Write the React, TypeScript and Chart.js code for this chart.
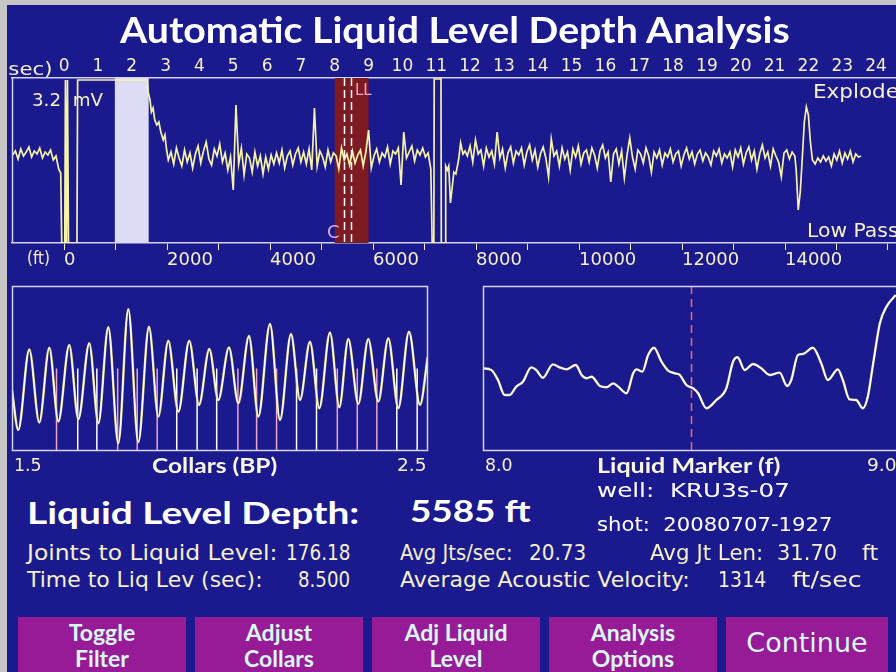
import React, { useEffect, useLayoutEffect, useRef } from 'react';
import { Chart, registerables } from 'chart.js';

Chart.register(...registerables);

// ---------------- data ----------------
const SOUND_VELOCITY = 1314; // ft/sec
const SEC_MIN = -1.54;
const SEC_MAX = 24.59;
const SAMPLE_STEP = 0.08; // sec between trace samples

const secTicks = [0, 1, 2, 3, 4, 5, 6, 7, 8, 9, 10, 11, 12, 13, 14, 15, 16, 17, 18, 19, 20, 21, 22, 23, 24];
const ftTicks = [0, 1000, 2000, 3000, 4000, 5000, 6000, 7000, 8000, 9000, 10000, 11000, 12000, 13000, 14000, 15000, 16000];
const ftLabeled = [0, 2000, 4000, 6000, 8000, 10000, 12000, 14000];

// acoustic trace (arbitrary display units, 0 = baseline)
const preShotStart = -1.52;
const preShot = [5, 9, 1, 11, 4, 8, 13, 3, 9, 6, 12, 2, 8, 5, 10, 0, 4, -9];
const shotEvents: [number, number][] = [
  [-0.1, -13], [-0.07, -83], [0.02, -83], [0.04, 80], [0.07, -83], [0.1, 80], [0.13, -83],
  [0.38, -83], [0.4, 80], [2.45, 80], [2.49, 67], [2.54, 60], [2.58, 48], [2.63, 52],
  [2.68, 40], [2.74, 35], [2.8, 38], [2.86, 28], [2.93, 20], [2.98, 25], [3.03, 10],
];
const midStart = 3.08;
const midTrace = [
  0, 8, -4, 12, 2, -6, 10, -2, 7, -8,
  6, 14, -3, 9, 18, 1, -5, 11, 4, 16,
  -2, 7, -10, 3, -30, 55, -4, 12, -15, 6,
  2, -12, 8, -6, 4, -14, 3, -9, 5, -4,
  7, -3, 10, -8, 4, 9, -5, 6, 12, -2,
  8, -4, 11, -10, 52, -6, 9, 3, -7, 10,
  -2, 7, 4, -9, 12, 0, 6, -5, 9, -3,
  5, 10, -6, 8, 30, -8, 4, 11, -2, 7,
  3, 13, -4, 9, 6, 12, -25, 28, 2, 8,
  14, -1, 10, 5, 12, 3, 7, -9,
];
const gasEvents: [number, number][] = [
  [10.88, -83], [10.93, -83], [10.94, 81], [11.14, 81], [11.15, -83], [11.26, -83],
  [11.28, -6], [11.33, -10], [11.37, -6], [11.42, -43], [11.47, -28], [11.52, -12],
  [11.58, -14], [11.66, 0], [11.72, 17], [11.79, 6], [11.85, 9],
];
const lateStart = 11.92;
const lateTrace = [
  4, 14, -2, 20, 6, 10, -6, 12, 3, 9,
  -4, 28, 2, 11, -8, 7, 13, -3, 9, 5,
  12, -5, 8, 15, 0, 10, -7, 6, 13, 2,
  -17, 21, 4, 9, -6, 12, 1, 8, -10, 11,
  3, 14, -4, 7, 10, -2, 12, 5, -8, 9,
  15, 2, 8, -22, 6, 11, -4, 9, -18, 5,
  22, 3, -9, 10, 6, -3, 12, 4, -12, 8,
  2, 10, -5, 7, 3, 11, -2, 6, 9, -6,
  5, 12, 1, 8, -4, 6, 10, -1, 7, 3,
  -5, 9, 4, 11, -3, 6, 2, 8, -7, 10,
  3, 12, -4, 7, 13, 0, 9, -9, 6, 15,
  2, 8, -6, 11, 4, -2, -17, 7, 10, 1,
  8, 4,
];
const echoEvents: [number, number][] = [
  [21.64, -10], [21.7, -50], [21.76, -32], [21.82, 2], [21.88, 38], [21.94, 53],
  [22.0, 45], [22.06, 18], [22.12, 0], [22.2, -4],
];
const tailStart = 22.28;
const tailTrace = [2, -2, 4, -1, 3, -6, 6, 0, 9, -3, 7, 1, 9, -2, 6, 3, 4];

const collarWindow = [1.5, 2.5];
const liquidWindow = [8.0, 9.0];
const markerLines = [8.28, 8.47];
const LL_TIME = 8.5;

// collar (BP) waveform: peaks & troughs
const collarT = [1.5, 1.515, 1.5416, 1.5656, 1.5897, 1.6113, 1.6377, 1.6594, 1.6858, 1.7075,
  1.7315, 1.7555, 1.7796, 1.8036, 1.8293, 1.8517, 1.8757, 1.8998, 1.9262, 1.9495, 1.9743,
  1.9959, 2.0216, 2.044, 2.0697, 2.0921, 2.1202, 2.1442, 2.1707, 2.1923, 2.2163, 2.2387,
  2.2644, 2.2868, 2.3084, 2.3325, 2.3565, 2.3805, 2.4046, 2.4286, 2.4543, 2.4808, 2.4993];
const collarV = [37, 12.7, 61.6, 17.2, 62.6, 17.8, 64.2, 19.2, 65.3, 16.8, 75, 4.7, 85.9, 5.3,
  75.3, 20.8, 66.8, 23.8, 66.8, 27.9, 61.8, 30.9, 62.8, 28.9, 69.7, 20.8, 77, 18.8, 70.9, 30.9,
  66.2, 25.9, 71.9, 26.5, 67.9, 28.5, 67.9, 29.9, 68.3, 25.9, 72.3, 27.9, 57];
const pinkCollars = [1.607, 1.754, 1.801, 1.849, 2.043, 2.088, 2.136, 2.282, 2.33, 2.377];
const whiteCollars = [1.658, 1.704, 1.896, 1.945, 1.992, 2.184, 2.232, 2.425, 2.474];
const collarMarkHeight = 50;

// liquid marker waveform
const liquidT = [8.0, 8.02, 8.036, 8.052, 8.064, 8.08, 8.096, 8.116, 8.128, 8.144, 8.168, 8.184,
  8.2, 8.223, 8.237, 8.249, 8.261, 8.281, 8.297, 8.313, 8.325, 8.345, 8.361, 8.369, 8.383, 8.397,
  8.411, 8.429, 8.445, 8.461, 8.473, 8.489, 8.505, 8.517, 8.537, 8.561, 8.585, 8.601, 8.612, 8.629,
  8.649, 8.669, 8.689, 8.713, 8.731, 8.741, 8.757, 8.769, 8.793, 8.813, 8.829, 8.853, 8.865, 8.881,
  8.897, 8.913, 8.925, 8.938, 8.954, 8.97, 8.992];
const liquidV = [50.1, 49.1, 43.0, 33.9, 33.9, 39.0, 42.0, 50.7, 49.1, 44.4, 52.5, 50.7, 49.5, 52.1,
  46.1, 44.1, 45.0, 39.4, 38.6, 41.0, 39.0, 35.0, 47.1, 49.5, 48.1, 58.2, 62.6, 54.1, 48.7, 47.1,
  46.1, 40.0, 38.0, 35.0, 25.9, 30.9, 38.0, 54.1, 56.8, 49.1, 52.7, 50.1, 46.1, 47.5, 39.4, 43.0,
  58.2, 58.8, 62.6, 53.2, 43.0, 49.5, 43.0, 31.3, 30.9, 25.9, 32.9, 53.2, 77.4, 87.5, 94.5];

// ---------------- styles ----------------
const BLUE = '#1a1a8e';
const PALE = '#f4f0c8';
const FRAME = '#d4d4f2';
const FONT = 'DejaVu Sans';
const BOLD_FONT = 'Lato';

// ---------------- helpers ----------------
const uniform = (start: number, vals: number[]) =>
  vals.map((v, i) => ({ x: +(start + i * SAMPLE_STEP).toFixed(3), y: v }));
const pairs = (arr: [number, number][]) => arr.map(([x, y]) => ({ x, y }));

const signalPts = [
  ...uniform(preShotStart, preShot),
  ...pairs(shotEvents),
  ...uniform(midStart, midTrace),
  ...pairs(gasEvents),
  ...uniform(lateStart, lateTrace),
  ...pairs(echoEvents),
  ...uniform(tailStart, tailTrace),
];

const stems = (ts: number[]) =>
  ts.flatMap((t) => [{ x: t, y: 0 }, { x: t, y: collarMarkHeight }, { x: t, y: null }]);

const framePlugin = {
  id: 'frame',
  afterDraw(chart: any) {
    const { ctx, chartArea: a } = chart;
    ctx.save();
    ctx.strokeStyle = FRAME;
    ctx.lineWidth = 1.5;
    ctx.strokeRect(a.left + 0.5, a.top + 0.5, a.right - a.left - 1, a.bottom - a.top - 1);
    ctx.restore();
  },
};

function Txt(props: any) {
  const { x, y, w, size, text, color = PALE, weight = 400, family = FONT } = props;
  const ref = useRef<HTMLDivElement>(null);
  const fit = () => {
    const el = ref.current;
    if (!el || !w) return;
    el.style.transform = 'none';
    const nat = el.offsetWidth;
    if (nat > 0) el.style.transform = `scaleX(${w / nat})`;
  };
  useLayoutEffect(() => {
    fit();
    if ((document as any).fonts) (document as any).fonts.ready.then(fit);
  });
  return (
    <div
      ref={ref}
      style={{
        position: 'absolute', left: x, top: y - size / 2, fontSize: size, lineHeight: `${size}px`,
        whiteSpace: 'pre', color, fontWeight: weight, fontFamily: family, transformOrigin: 'left center',
      }}
    >
      {text}
    </div>
  );
}

function useChart(make: (c: HTMLCanvasElement) => Chart) {
  const ref = useRef<HTMLCanvasElement>(null);
  useEffect(() => {
    if (!ref.current) return;
    const ch = make(ref.current);
    return () => ch.destroy();
  }, []);
  return ref;
}

function TopChart() {
  const ref = useChart((canvas) => {
    const ftMin = (SEC_MIN * SOUND_VELOCITY) / 2;
    const ftMax = (SEC_MAX * SOUND_VELOCITY) / 2;
    const overlay = {
      id: 'overlay',
      beforeDatasetsDraw(chart: any) {
        const { ctx, chartArea: a, scales } = chart;
        const sx = scales.x;
        ctx.save();
        ctx.fillStyle = '#dcdcf6';
        let x1 = sx.getPixelForValue(collarWindow[0]);
        let x2 = sx.getPixelForValue(collarWindow[1]);
        ctx.fillRect(x1, a.top, x2 - x1, a.bottom - a.top);
        ctx.fillStyle = '#7e1a22';
        x1 = sx.getPixelForValue(liquidWindow[0]);
        x2 = sx.getPixelForValue(liquidWindow[1]);
        ctx.fillRect(x1, a.top, x2 - x1, a.bottom - a.top);
        ctx.restore();
      },
      afterDatasetsDraw(chart: any) {
        const { ctx, chartArea: a, scales } = chart;
        const sx = scales.x;
        ctx.save();
        ctx.strokeStyle = '#ffffff';
        ctx.lineWidth = 1.5;
        ctx.setLineDash([8, 4]);
        markerLines.forEach((t) => {
          const px = Math.round(sx.getPixelForValue(t)) + 0.5;
          ctx.beginPath();
          ctx.moveTo(px, a.top);
          ctx.lineTo(px, a.bottom);
          ctx.stroke();
        });
        ctx.setLineDash([]);
        ctx.strokeStyle = FRAME;
        ctx.beginPath();
        ctx.moveTo(a.left + 0.5, a.top);
        ctx.lineTo(a.left + 0.5, a.bottom);
        ctx.stroke();
        ctx.restore();
      },
    };
    return new Chart(canvas, {
      type: 'line',
      data: {
        datasets: [
          { data: signalPts as any, borderColor: '#f6f2a8', borderWidth: 1.7, pointRadius: 0, tension: 0 },
          { data: [], xAxisID: 'ft', pointRadius: 0 },
        ],
      },
      options: {
        animation: false, responsive: false, events: [],
        layout: { padding: { left: 12, right: 0, top: 0, bottom: 0 } },
        plugins: { legend: { display: false }, tooltip: { enabled: false } },
        scales: {
          x: {
            type: 'linear', position: 'top', display: true, min: SEC_MIN, max: SEC_MAX,
            grid: { display: false, drawTicks: false },
            border: { display: true, color: FRAME, width: 1.5 },
            afterBuildTicks: (s: any) => { s.ticks = secTicks.map((v) => ({ value: v })); },
            ticks: {
              autoSkip: false, maxRotation: 0, minRotation: 0, padding: 1, color: PALE,
              font: { family: FONT, size: 17 },
              callback: (v: any) => String(v),
            },
            afterFit: (s: any) => { s.height = 28; s.paddingLeft = 0; s.paddingRight = 0; },
          },
          ft: {
            type: 'linear', axis: 'x', position: 'bottom', display: true, min: ftMin, max: ftMax,
            grid: {
              display: true, drawOnChartArea: false, drawTicks: true, tickLength: 7, color: PALE,
            },
            border: { display: true, color: FRAME, width: 1.5 },
            afterBuildTicks: (s: any) => { s.ticks = ftTicks.map((v) => ({ value: v })); },
            ticks: {
              autoSkip: false, maxRotation: 0, minRotation: 0, align: 'start', padding: 0,
              color: PALE, font: { family: FONT, size: 18 },
              callback: (v: any) => (ftLabeled.includes(v) ? String(v) : ''),
            },
            afterFit: (s: any) => { s.height = 32; s.paddingLeft = 0; s.paddingRight = 0; },
          },
          y: { display: false, min: -83, max: 82 },
        },
      } as any,
      plugins: [overlay],
    });
  });
  return <canvas ref={ref} width={896} height={225} style={{ position: 'absolute', left: 0, top: 50, display: 'block' }} />;
}

function CollarChart() {
  const ref = useChart((canvas) => {
    const wave = collarT.map((t, i) => ({ x: t, y: collarV[i] }));
    return new Chart(canvas, {
      type: 'line',
      data: {
        datasets: [
          { data: wave, borderColor: '#ffffff', borderWidth: 1.3, pointRadius: 0, cubicInterpolationMode: 'monotone' },
          { data: wave, borderColor: '#d8d27a', borderWidth: 2.4, pointRadius: 0, cubicInterpolationMode: 'monotone' },
          { data: stems(pinkCollars), borderColor: '#f0a4c8', borderWidth: 1.5, pointRadius: 0 },
          { data: stems(whiteCollars), borderColor: '#ffffff', borderWidth: 1.5, pointRadius: 0 },
        ] as any,
      },
      options: {
        animation: false, responsive: false, events: [],
        layout: { padding: { left: 12, right: 12, top: 6, bottom: 29 } },
        plugins: { legend: { display: false }, tooltip: { enabled: false } },
        scales: {
          x: { type: 'linear', display: false, min: collarWindow[0], max: collarWindow[1] },
          y: { display: false, min: 0, max: 100 },
        },
      } as any,
      plugins: [framePlugin],
    });
  });
  return <canvas ref={ref} width={440} height={200} style={{ position: 'absolute', left: 0, top: 280, display: 'block' }} />;
}

function LiquidChart() {
  const ref = useChart((canvas) => {
    const curve = liquidT.map((t, i) => ({ x: t, y: liquidV[i] }));
    const llLine = {
      id: 'llLine',
      afterDatasetsDraw(chart: any) {
        const { ctx, chartArea: a, scales } = chart;
        const px = Math.round(scales.x.getPixelForValue(LL_TIME)) + 0.5;
        ctx.save();
        ctx.strokeStyle = '#f26a5e';
        ctx.lineWidth = 1.5;
        ctx.setLineDash([8, 5]);
        ctx.beginPath();
        ctx.moveTo(px, a.top);
        ctx.lineTo(px, a.bottom);
        ctx.stroke();
        ctx.restore();
      },
    };
    return new Chart(canvas, {
      type: 'line',
      data: {
        datasets: [
          { data: curve, borderColor: '#ffffff', borderWidth: 1.3, pointRadius: 0, cubicInterpolationMode: 'monotone' },
          { data: curve, borderColor: '#dcdca0', borderWidth: 2.4, pointRadius: 0, cubicInterpolationMode: 'monotone' },
        ] as any,
      },
      options: {
        animation: false, responsive: false, events: [],
        layout: { padding: { left: 13, right: 11, top: 6, bottom: 29 } },
        plugins: { legend: { display: false }, tooltip: { enabled: false } },
        scales: {
          x: { type: 'linear', display: false, min: liquidWindow[0], max: liquidWindow[1] },
          y: { display: false, min: 0, max: 100 },
        },
      } as any,
      plugins: [framePlugin, llLine],
    });
  });
  return <canvas ref={ref} width={440} height={200} style={{ position: 'absolute', left: 470, top: 280, display: 'block' }} />;
}

const buttons = [
  { x: 18, w: 168, lines: ['Toggle', 'Filter'] },
  { x: 195, w: 168, lines: ['Adjust', 'Collars'] },
  { x: 372, w: 168, lines: ['Adj Liquid', 'Level'] },
  { x: 549, w: 168, lines: ['Analysis', 'Options'] },
  { x: 726, w: 162, lines: ['Continue'] },
];

export default function App() {
  return (
    <div style={{ position: 'fixed', left: 0, top: 0, width: 896, height: 672, background: BLUE, overflow: 'hidden', fontFamily: FONT }}>
      <TopChart />
      <CollarChart />
      <LiquidChart />

      <Txt x={120} y={29} w={670} size={36} text="Automatic Liquid Level Depth Analysis" color="#ffffff" weight={700} family={BOLD_FONT} />
      <Txt x={0} y={69} w={52} size={18} text="(sec)" />
      <Txt x={27} y={258} w={23} size={18} text="(ft)" />
      <Txt x={32} y={100} w={71} size={18} text="3.2  mV" />
      <Txt x={813} y={91} w={86} size={19} text="Explode" />
      <Txt x={807} y={230} w={92} size={19} text="Low Pass" />
      <Txt x={355} y={90} w={17} size={15} text="LL" color="#f4a8c0" />
      <Txt x={327} y={232} w={13} size={18} text="C" color="#e0a8e8" />

      <Txt x={14} y={465} w={28} size={18} text="1.5" />
      <Txt x={152} y={465} w={125} size={20} text="Collars (BP)" weight={700} family={BOLD_FONT} color="#f8f6dc" />
      <Txt x={397} y={465} w={30} size={18} text="2.5" />
      <Txt x={485} y={465} w={28} size={18} text="8.0" />
      <Txt x={597} y={465} w={183} size={20} text="Liquid Marker (f)" weight={700} family={BOLD_FONT} color="#f8f6dc" />
      <Txt x={867} y={465} w={30} size={18} text="9.0" />

      <Txt x={27} y={512} w={333} size={31} text="Liquid Level Depth:" color="#ffffff" weight={700} family={BOLD_FONT} />
      <Txt x={410} y={510} w={120} size={31} text="5585 ft" color="#ffffff" weight={700} family={BOLD_FONT} />
      <Txt x={597} y={490} w={193} size={19} text="well:  KRU3s-07" color="#ffffff" />
      <Txt x={597} y={524} w={235} size={19} text="shot:  20080707-1927" color="#ffffff" />

      <Txt x={27} y={553} w={250} size={21} text="Joints to Liquid Level:" />
      <Txt x={286} y={553} w={64} size={21} text="176.18" />
      <Txt x={27} y={580} w={236} size={21} text="Time to Liq Lev (sec):" />
      <Txt x={298} y={580} w={52} size={21} text="8.500" />
      <Txt x={400} y={553} w={113} size={21} text="Avg Jts/sec:" />
      <Txt x={529} y={553} w={57} size={21} text="20.73" />
      <Txt x={650} y={553} w={113} size={21} text="Avg Jt Len:" />
      <Txt x={777} y={553} w={60} size={21} text="31.70" />
      <Txt x={862} y={553} w={16} size={21} text="ft" />
      <Txt x={400} y={580} w={290} size={21} text="Average Acoustic Velocity:" />
      <Txt x={718} y={580} w={48} size={21} text="1314" />
      <Txt x={792} y={580} w={70} size={21} text="ft/sec" />

      {buttons.map((b) => (
        <div key={b.x} style={{ position: 'absolute', left: b.x, top: 617, width: b.w, height: 60, background: '#971b97' }}>
          {b.lines.length === 2 ? (
            b.lines.map((ln, i) => (
              <div key={ln} style={{
                position: 'absolute', left: 0, width: b.w, top: 15 + i * 26 - 12, height: 24, lineHeight: '24px',
                textAlign: 'center', color: '#d8f6f4', fontFamily: BOLD_FONT, fontWeight: 700, fontSize: 23,
              }}>{ln}</div>
            ))
          ) : (
            <div style={{
              position: 'absolute', left: 0, width: b.w, top: 26 - 15, height: 30, lineHeight: '30px',
              textAlign: 'center', color: '#d8f6f4', fontFamily: FONT, fontSize: 27,
            }}>{b.lines[0]}</div>
          )}
        </div>
      ))}

      <div style={{ position: 'absolute', left: 0, top: 0, width: 7, height: 672, background: '#c6c6c6' }} />
      <div style={{ position: 'absolute', left: 0, top: 0, width: 896, height: 5, background: '#c6c6c6' }} />
    </div>
  );
}
